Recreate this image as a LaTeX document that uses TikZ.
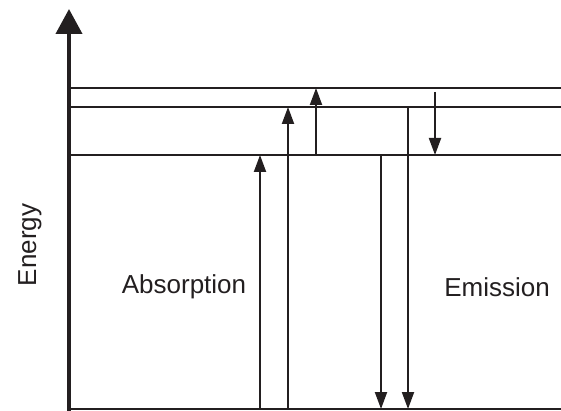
\documentclass[tikz,border=0pt]{standalone}
\usepackage{fontspec}
\setmainfont{Liberation Sans}
\usetikzlibrary{arrows.meta}
\begin{document}
\begin{tikzpicture}[x=1pt,y=-1pt,
  level/.style={line width=2pt, draw={rgb,255:red,35;green,31;blue,32}},
  trans/.style={line width=2pt, draw={rgb,255:red,35;green,31;blue,32}, -{Triangle[length=17pt,width=12pt]}},
  axis/.style={line width=4pt, draw={rgb,255:red,35;green,31;blue,32}, -{Triangle[length=25pt,width=26pt]}},
  lbl/.style={font=\fontsize{26}{31}\selectfont, text={rgb,255:red,35;green,31;blue,32}, inner sep=0pt}]
\useasboundingbox (0,0) rectangle (561,411);
% axis
\coordinate (o) at (69,411);
\coordinate (top) at (69,9);
\draw[axis] (o) -- (top);
% levels
\coordinate (g0) at (67,409); \coordinate (g1) at (561,409);
\coordinate (a0) at (69,155); \coordinate (a1) at (561,155);
\coordinate (b0) at (69,107); \coordinate (b1) at (561,107);
\coordinate (c0) at (69,88);  \coordinate (c1) at (561,88);
\draw[level] (g0) -- (g1);
\draw[level] (a0) -- (a1);
\draw[level] (b0) -- (b1);
\draw[level] (c0) -- (c1);
% absorption
\coordinate (u1s) at (260,409); \coordinate (u1e) at (260,155);
\coordinate (u2s) at (288,409); \coordinate (u2e) at (288,107);
\coordinate (u3s) at (316,155); \coordinate (u3e) at (316,88);
\draw[trans] (u1s) -- (u1e);
\draw[trans] (u2s) -- (u2e);
\draw[trans] (u3s) -- (u3e);
% emission
\coordinate (d1s) at (381,155); \coordinate (d1e) at (381,409);
\coordinate (d2s) at (408,107); \coordinate (d2e) at (408,409);
\coordinate (d3s) at (435,92);  \coordinate (d3e) at (435,155);
\draw[trans] (d1s) -- (d1e);
\draw[trans] (d2s) -- (d2e);
\draw[trans] (d3s) -- (d3e);
% labels
\node[lbl] (abs) at (184,287) {Absorption};
\node[lbl] (emi) at (497,287) {Emission};
\node[lbl, rotate=90] (en) at (30,245) {Energy};
\end{tikzpicture}
\end{document}
